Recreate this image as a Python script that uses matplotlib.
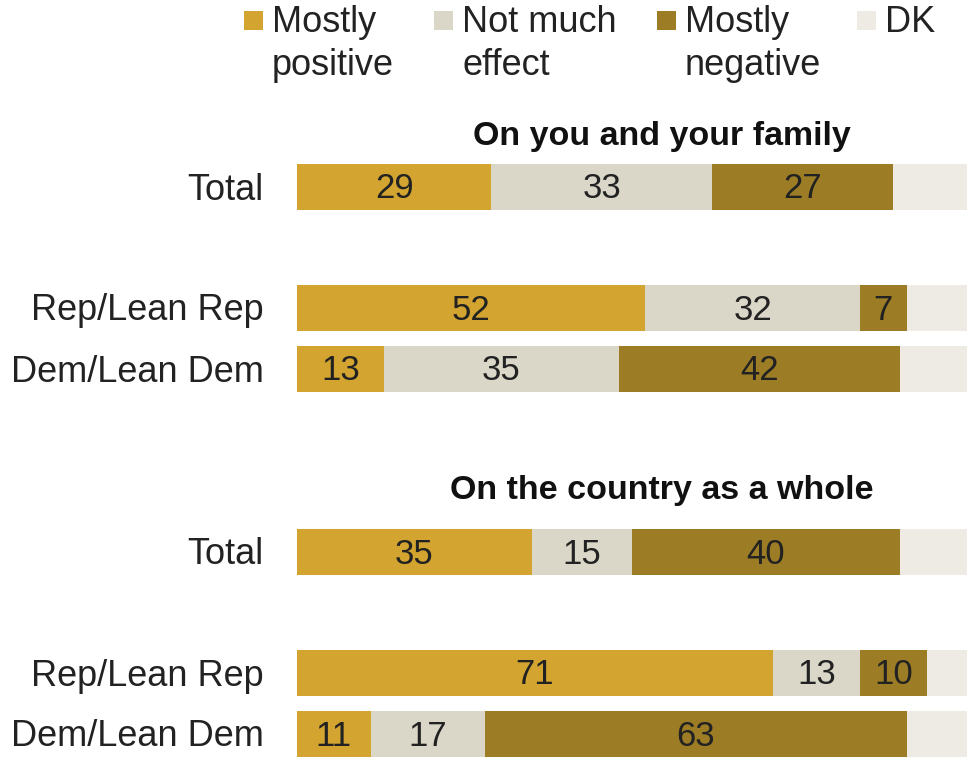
import matplotlib.pyplot as plt
from matplotlib.patches import Rectangle
from matplotlib import font_manager

names = {f.name for f in font_manager.fontManager.ttflist}
fam = 'Liberation Sans Narrow' if 'Liberation Sans Narrow' in names else 'Liberation Sans'
plt.rcParams['font.family'] = [fam, 'DejaVu Sans']

categories = ['Mostly\npositive', 'Not much\neffect', 'Mostly\nnegative', 'DK']
colors = ['#D3A530', '#DAD7C8', '#9C7C24', '#EDEBE4']

row_labels = ['Total', 'Rep/Lean Rep', 'Dem/Lean Dem',
              'Total', 'Rep/Lean Rep', 'Dem/Lean Dem']
positive = [29, 52, 13, 35, 71, 11]
not_much = [33, 32, 35, 15, 13, 17]
negative = [27, 7, 42, 40, 10, 63]
dk = [11, 9, 10, 10, 6, 9]
section_titles = ['On you and your family', 'On the country as a whole']

# layout (pixel units, figure is 967x757)
W, H = 967, 757
row_y = [187, 308, 369, 552, 673, 734]
title_y = [133, 488]
bar_h = 46

fig = plt.figure(figsize=(W / 100, H / 100), dpi=100)
ax = fig.add_axes([297 / W, 0, 670 / W, 1])
ax.set_xlim(0, 100)
ax.set_ylim(H, 0)
ax.axis('off')

series = [positive, not_much, negative, dk]
left = [0] * len(row_labels)
for k, vals in enumerate(series):
    ax.barh(row_y, vals, left=left, height=bar_h, color=colors[k], linewidth=0)
    if k < 3:
        for i, v in enumerate(vals):
            ax.text(left[i] + v / 2, row_y[i] + 2, str(v), ha='center', va='center',
                    fontsize=25, color='#222222')
    left = [a + b for a, b in zip(left, vals)]

for i, lab in enumerate(row_labels):
    ax.text(-5, row_y[i] + 3, lab, ha='right', va='center', fontsize=26, color='#222222')

for t, y in zip(section_titles, title_y):
    ax.text(54.5, y + 3, t, ha='center', va='center', fontsize=24.5, fontweight='bold',
            color='#111111')

# legend across the top
leg_x = [272, 462, 685, 885]
for x, lab, c in zip(leg_x, categories, colors):
    fig.patches.append(Rectangle(((x - 28) / W, 1 - 30 / H), 19 / W, 19 / H,
                                 transform=fig.transFigure, color=c, linewidth=0))
    fig.text(x / W, 1 - 5 / H, lab, ha='left', va='top', fontsize=26,
             color='#222222', linespacing=1.3)

fig.savefig('out.png', dpi=100)
